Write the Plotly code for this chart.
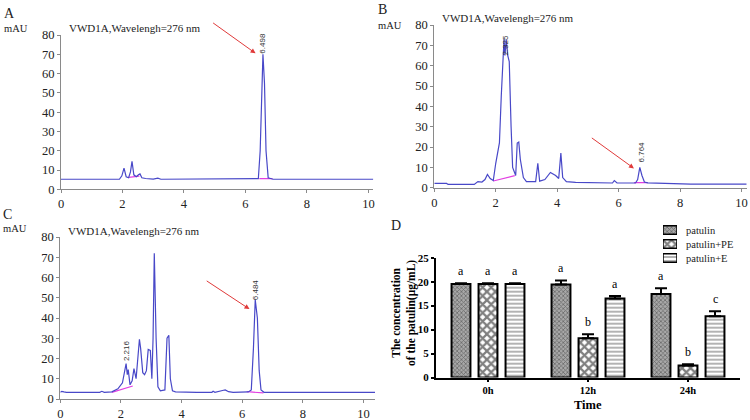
import plotly.graph_objects as go

# ---------------- data ----------------
# Chromatogram A (retention time min, mAU)
a_t = [0, 1.9, 1.98, 2.05, 2.12, 2.2, 2.26, 2.31, 2.37, 2.45, 2.52, 2.57, 2.63, 2.75, 3.0, 3.15, 3.25, 3.4,
       6.25, 6.42, 6.48, 6.53, 6.57, 6.62, 6.67, 6.74, 6.82, 6.9, 10.16]
a_v = [5.2, 5.2, 7, 11, 6.5, 6, 9, 14.5, 7.5, 6.5, 7.5, 8, 6, 5.6, 5.3, 5.8, 5.2, 5.2,
       5.2, 5.5, 20, 55, 70, 55, 20, 6, 5.4, 5.2, 5.2]
a_base_t = [[2.2, 2.55], [6.45, 6.88]]
a_base_v = [[6.2, 6.8], [5.5, 5.5]]

# Chromatogram B
b_t = [0, 0.4, 0.45, 1.3, 1.42, 1.55, 1.65, 1.73, 1.82, 1.92, 2.0, 2.06, 2.12, 2.18, 2.23, 2.27, 2.3, 2.34,
       2.39, 2.44, 2.5, 2.55, 2.6, 2.65, 2.7, 2.75, 2.8, 2.9, 3.0, 3.3, 3.37, 3.43, 3.6, 3.78, 3.95, 4.05,
       4.12, 4.18, 4.3, 4.6, 5.8, 5.86, 5.95, 6.55, 6.62, 6.69, 6.76, 6.84, 6.95, 8.3, 8.35, 10.17]
b_v = [2.1, 2.1, 1.6, 1.6, 3, 2.8, 4, 6.5, 4.5, 3.5, 12, 18, 22, 45, 66, 73, 65, 73,
       65, 62, 30, 10, 8, 6, 22, 22.5, 14, 5, 3, 3, 12, 3.2, 4, 7.5, 6, 4.5,
       17, 5, 3, 2.6, 2.3, 3.5, 2.3, 2.3, 4, 10, 6, 2.8, 2.4, 2.1, 1.8, 1.8]
b_base_t = [[1.92, 2.62], [6.5, 6.95]]
b_base_v = [[3.3, 5.9], [2.5, 2.5]]

# Chromatogram C
c_t = [0, 0.05, 0.12, 0.2, 1.3, 1.37, 1.45, 1.7, 1.9, 2.05, 2.17, 2.21, 2.24, 2.3, 2.37, 2.43, 2.5, 2.56,
       2.61, 2.65, 2.72, 2.78, 2.84, 2.9, 2.97, 3.02, 3.06, 3.1, 3.13, 3.16, 3.22, 3.3, 3.45, 3.52, 3.58,
       3.63, 3.7, 3.8, 4.5, 5.0, 5.04, 5.1, 5.35, 5.44, 5.55, 5.7, 6.2, 6.3, 6.37, 6.43, 6.5, 6.56, 6.62,
       6.72, 10.38]
c_v = [3.3, 3.8, 3.5, 3.3, 3.3, 3.8, 3.3, 3.5, 5, 8, 17.5, 12, 14.5, 7, 9, 15, 10, 22,
       29.5, 25, 13, 12, 14, 24.5, 24, 10, 30, 72, 36, 30, 6, 4, 4.5, 30, 31.5,
       10, 4, 3.5, 3.3, 3.3, 3.8, 3.3, 4.2, 4.5, 3.6, 3.3, 3.5, 4.5, 25, 49, 40, 14, 4.5,
       3.3, 3.3]
c_base_t = [[1.7, 2.39], [6.15, 6.7]]
c_base_v = [[3.3, 6.4], [3.6, 3.0]]

chrom_yticks = [0, 10, 20, 30, 40, 50, 60, 70, 80]
chrom_xticks = [0, 2, 4, 6, 8, 10]

# Bar chart D
times = ["0h", "12h", "24h"]
series_names = ["patulin", "patulin+PE", "patulin+E"]
patulin = [19.5, 19.4, 17.4]
patulin_err = [0.15, 0.85, 1.2]
patulin_pe = [19.5, 8.2, 2.5]
patulin_pe_err = [0.15, 0.85, 0.25]
patulin_e = [19.5, 16.5, 12.8]
patulin_e_err = [0.15, 0.5, 1.0]
letters = [["a", "a", "a"], ["a", "b", "b"], ["a", "a", "c"]]

# ---------------- figure ----------------
W, H = 750, 420
SERIF = "Liberation Serif"
SANS = "Liberation Sans"
TRACE = "#4848c8"
PINK = "#e23ee2"
RED = "#e03a3a"

def px(x):
    return x / W

def py(y):
    return 1 - y / H

fig = go.Figure()

panels = [
    # (xaxis, yaxis, t, v, base_t, base_v, xrange, xdomain px, ydomain px)
    ("x", "y", a_t, a_v, a_base_t, a_base_v, 10.16, (61, 373.3), (189.3, 35)),
    ("x2", "y2", b_t, b_v, b_base_t, b_base_v, 10.17, (434.3, 746.7), (187.7, 25)),
    ("x3", "y3", c_t, c_v, c_base_t, c_base_v, 10.38, (60.3, 375), (399, 237)),
]

layout_axes = {}
for i, (xa, ya, t, v, bt, bv, xr, xd, yd) in enumerate(panels):
    for seg_t, seg_v in zip(bt, bv):
        fig.add_trace(go.Scatter(x=seg_t, y=seg_v, mode="lines", xaxis=xa, yaxis=ya,
                                 line=dict(color=PINK, width=1.2), showlegend=False, hoverinfo="skip"))
    fig.add_trace(go.Scatter(x=t, y=v, mode="lines", xaxis=xa, yaxis=ya,
                             line=dict(color=TRACE, width=1.2), showlegend=False))
    suffix = "" if i == 0 else str(i + 1)
    layout_axes["xaxis" + suffix] = dict(
        domain=[px(xd[0]), px(xd[1])], range=[0, xr], anchor=ya,
        tickvals=chrom_xticks, showgrid=False, zeroline=False,
        showline=True, linecolor="#8a8a8a", linewidth=1, ticks="outside", ticklen=3,
        tickcolor="#8a8a8a", tickfont=dict(family=SERIF, size=12.5, color="#222"))
    layout_axes["yaxis" + suffix] = dict(
        domain=[py(yd[0]), py(yd[1])], range=[0, 80], anchor=xa,
        tickvals=chrom_yticks, showgrid=False, zeroline=False,
        showline=True, linecolor="#8a8a8a", linewidth=1, ticks="outside", ticklen=3,
        tickcolor="#8a8a8a", tickfont=dict(family=SERIF, size=12.5, color="#222"))

# bar chart
bar_styles = [
    dict(shape="x", size=3, solidity=0.45, fgcolor="#2a2a2a", bgcolor="#a8a8a8"),
    dict(shape="x", size=6, solidity=0.6, fgcolor="#000000", bgcolor="#ffffff"),
    dict(shape="-", size=4, solidity=0.45, fgcolor="#555555", bgcolor="#ffffff"),
]
vals = [patulin, patulin_pe, patulin_e]
errs = [patulin_err, patulin_pe_err, patulin_e_err]
for name, val, err, pat in zip(series_names, vals, errs, bar_styles):
    fig.add_trace(go.Bar(
        x=times, y=val, name=name, xaxis="x4", yaxis="y4", showlegend=False,
        marker=dict(color=pat["bgcolor"], line=dict(color="black", width=2), pattern=pat),
        error_y=dict(type="data", array=err, arrayminus=[0] * len(err), symmetric=False,
                     color="black", thickness=2, width=6),
    ))
    # legend swatch (horizontal bar on a small legend axis)
    fig.add_trace(go.Bar(
        y=[name], x=[1], orientation="h", xaxis="x5", yaxis="y5", showlegend=False,
        offsetgroup="legend", width=0.62, hoverinfo="skip",
        marker=dict(color=pat["bgcolor"], line=dict(color="black", width=1.5), pattern=pat),
    ))

layout_axes["xaxis4"] = dict(
    domain=[px(436), px(740)], range=[-0.52, 2.52], anchor="y4", type="category",
    showgrid=False, zeroline=False, showline=True, linecolor="black", linewidth=2,
    ticks="outside", ticklen=2, tickwidth=2, tickcolor="black",
    tickfont=dict(family=SERIF, size=10.5, color="black", weight="bold"))
layout_axes["yaxis4"] = dict(
    domain=[py(377.5), py(257.7)], range=[0, 25], anchor="x4", dtick=5,
    showgrid=False, zeroline=False, showline=True, linecolor="black", linewidth=2,
    ticks="outside", ticklen=3, tickwidth=2, tickcolor="black",
    tickfont=dict(family=SERIF, size=11, color="black", weight="bold"))
# legend axes
layout_axes["xaxis5"] = dict(domain=[px(663), px(677)], range=[0, 1], anchor="y5", visible=False,
                             fixedrange=True)
layout_axes["yaxis5"] = dict(domain=[py(265), py(223)], anchor="x5", type="category",
                             categoryorder="array", categoryarray=series_names[::-1],
                             range=[-0.5, 2.5], visible=False, fixedrange=True)

annotations = []
# legend texts
for name in series_names:
    annotations.append(dict(text=name, x=1, y=name, xref="x5", yref="y5", xanchor="left",
                            yanchor="middle", xshift=7,
                            showarrow=False, font=dict(family=SERIF, size=10.5, color="#222")))

def paper_text(text, x, y, size, xanchor="center", **kw):
    font = dict(family=SERIF, size=size, color=kw.pop("color", "#222"))
    if "weight" in kw:
        font["weight"] = kw.pop("weight")
    annotations.append(dict(text=text, x=px(x), y=py(y), xref="paper", yref="paper",
                            xanchor=xanchor, yanchor="middle", showarrow=False, font=font, **kw))

# panel letters
for lab, x, y in [("A", 9, 13), ("B", 382, 9), ("C", 7, 215), ("D", 396, 225)]:
    paper_text(lab, x, y, 14)
for x, y in [(15.5, 29), (390, 25), (15, 229)]:
    paper_text("mAU", x, y, 10.5)
for x, y in [(67, 28), (440, 18), (66, 231)]:
    paper_text("VWD1A,Wavelengh=276 nm", x, y, 11, xanchor="left")
# arrows (tail -> head), data coordinates
for xa, ya, x0, y0, x1, y1 in [("x", "y", 4.9, 86.8, 6.33, 70.5),
                               ("x2", "y2", 5.08, 25, 6.5, 9.5),
                               ("x3", "y3", 4.78, 58.8, 6.24, 44.4)]:
    annotations.append(dict(x=x1, y=y1, ax=x0, ay=y0, xref=xa, yref=ya, axref=xa, ayref=ya,
                            text="", showarrow=True, arrowhead=2, arrowsize=1, arrowwidth=1,
                            arrowcolor=RED))
# peak retention time labels
for xa, ya, x, y, lab in [("x", "y", 6.57, 76, "6.498"), ("x2", "y2", 6.74, 17.5, "6.764"),
                          ("x2", "y2", 2.31, 70, "2.325"), ("x3", "y3", 2.17, 23.7, "2.216"),
                          ("x3", "y3", 6.44, 54, "6.484")]:
    annotations.append(dict(text=lab, x=x, y=y, xref=xa, yref=ya, textangle=-90, showarrow=False,
                            xanchor="center", yanchor="middle",
                            font=dict(family=SANS, size=8, color="#333")))
# significance letters
offsets = [-27, 0, 27]
for si in range(3):
    for ti, t in enumerate(times):
        annotations.append(dict(text=letters[si][ti], x=t, y=vals[si][ti] + errs[si][ti],
                                xref="x4", yref="y4", xshift=offsets[si], yshift=3,
                                xanchor="center", yanchor="bottom",
                                showarrow=False, font=dict(family=SERIF, size=12, color="black")))
# axis titles for D
paper_text("The concentration<br>of the patulin(μg/mL)", 404, 313, 11.5, textangle=-90,
           color="black", weight="bold")
paper_text("Time", 588, 405, 12.5, color="black", weight="bold")

fig.update_layout(
    width=W, height=H, margin=dict(l=0, r=0, t=0, b=0, autoexpand=False),
    paper_bgcolor="white", plot_bgcolor="white",
    barmode="group", bargap=0.19, bargroupgap=0.3,
    showlegend=False,
    annotations=annotations,
    **layout_axes,
)

fig.write_html("out.html", config={"displayModeBar": False},
               post_script="document.body.style.margin='0';document.body.style.overflow='hidden';")
